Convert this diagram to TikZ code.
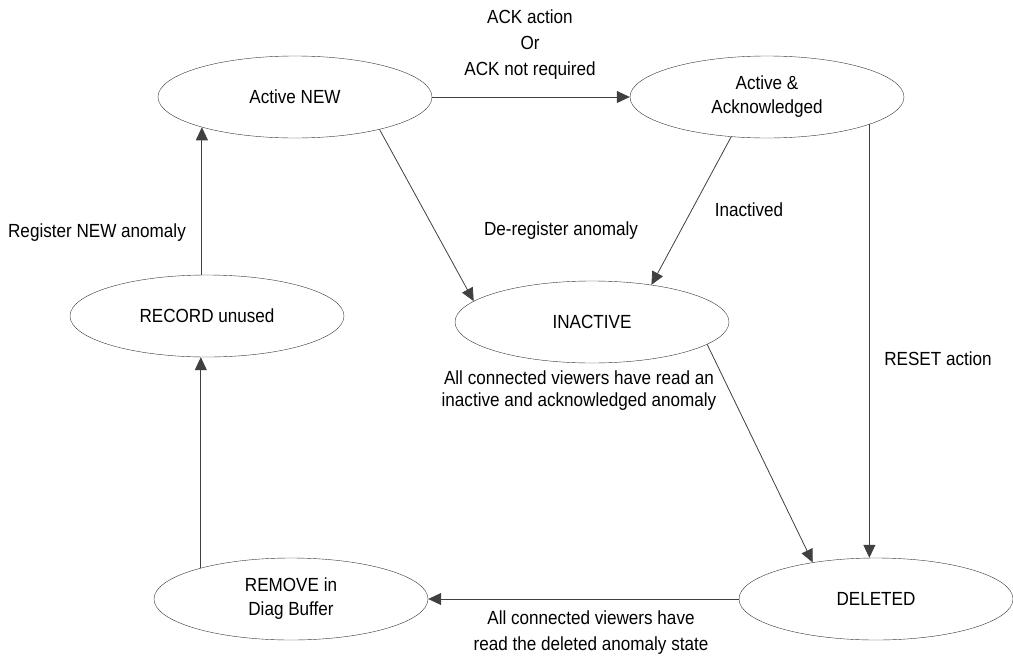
\documentclass[tikz,border=0pt]{standalone}
\usepackage{fontspec}
\setmainfont{Liberation Sans}[FakeStretch=0.9]
\usetikzlibrary{arrows.meta, shapes.geometric}

\begin{document}
\begin{tikzpicture}[
      x=1pt, y=-1pt,
      state/.style={draw=black!80, ellipse, minimum width=274pt, minimum height=82pt,
                    inner sep=0pt, align=center, font=\fontsize{19}{24}\selectfont},
      lbl/.style={align=center, inner sep=0pt, font=\fontsize{19}{26}\selectfont},
      arr/.style={-{Triangle[length=13pt, width=12pt]}, draw=black!75, line width=0.8pt}
    ]
    \useasboundingbox (0,0) rectangle (1013,659);

    \node[state] (new)   at (295,97)  {Active NEW};
    \node[state] (ack)   at (767,97)  {Active \&\\Acknowledged};
    \node[state] (rec)   at (207,316) {RECORD unused};
    \node[state] (inact) at (592,322) {INACTIVE};
    \node[state] (rem)   at (291,599) {REMOVE in\\Diag Buffer};
    \node[state] (del)   at (876,599) {DELETED};

    \draw[arr] (new.east) -- (ack.west);
    \draw[arr] (new.198 |- rec.north) -- (new.198);
    \draw[arr] (rem.161) -- (rem.161 |- rec.south);
    \draw[arr] (new.339) -- (inact.170);
    \draw[arr] (ack.228) -- (inact.32);
    \draw[arr] (inact.349) -- (del.150);
    \draw[arr] (ack.345) -- (ack.345 |- del.north);
    \draw[arr] (del.west) -- (rem.east);

    \node[lbl] (lack)  at (530,45)  {ACK action\\Or\\ACK not required};
    \node[lbl] (lreg)  at (97,233)  {Register NEW anomaly};
    \node[lbl] (lder)  at (561,231) {De-register anomaly};
    \node[lbl] (linac) at (749,210) {Inactived};
    \node[lbl] (lrst)  at (938,359) {RESET action};
    \node[lbl, font=\fontsize{19}{22}\selectfont] (lread) at (579,391)
      {All connected viewers have read an\\inactive and acknowledged anomaly};
    \node[lbl] (ldel)  at (591,633) {All connected viewers have\\read the deleted anomaly state};
  \end{tikzpicture}
\end{document}
